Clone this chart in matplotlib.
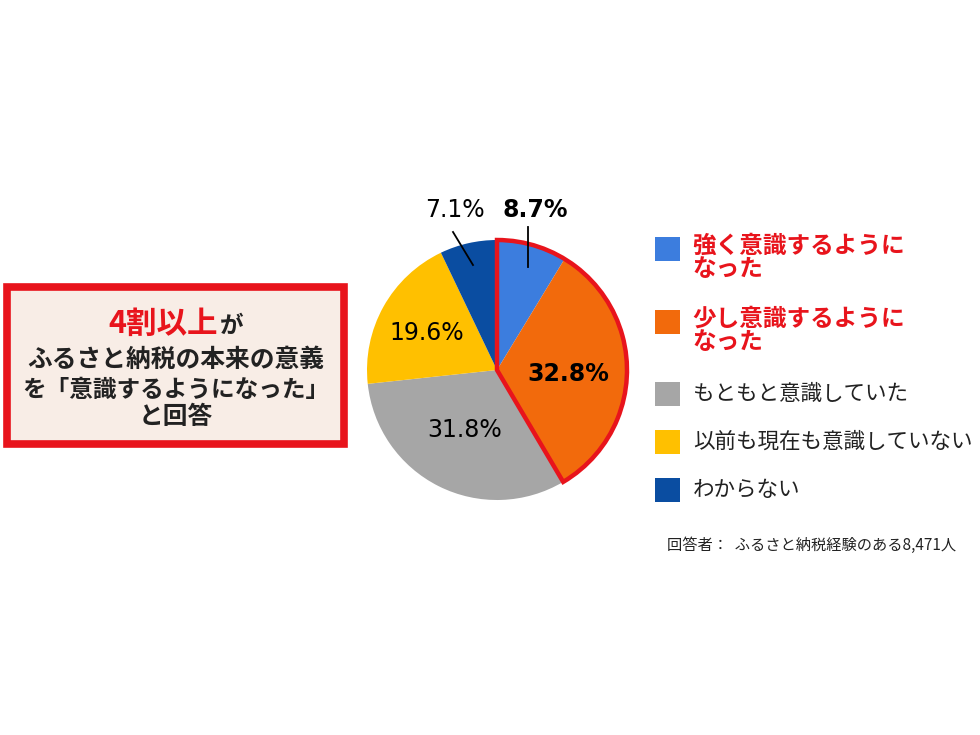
import matplotlib.pyplot as plt
from matplotlib.patches import Wedge, Rectangle

plt.rcParams['font.family'] = ['Noto Sans CJK JP', 'DejaVu Sans']

# データ
labels = ["強く意識するように\nなった", "少し意識するように\nなった", "もともと意識していた",
          "以前も現在も意識していない", "わからない"]
values = [8.7, 32.8, 31.8, 19.6, 7.1]
colors = ['#3C7DDE', '#F26A0C', '#A6A6A6', '#FFC000', '#0A4DA1']
label_red = [True, True, False, False, False]
note = "回答者：  ふるさと納税経験のある8,471人"

W, H = 980, 735
fig = plt.figure(figsize=(9.8, 7.35), dpi=100)
ax = fig.add_axes([0, 0, 1, 1])

def y(py):
    return H - py

# 円グラフ
cx, cy, r = 497, y(370), 130
ax.pie(values, colors=colors, startangle=90, counterclock=False,
       center=(cx, cy), radius=r, frame=True,
       wedgeprops=dict(linewidth=0))
ax.set_xlim(0, W)
ax.set_ylim(0, H)
ax.set_aspect('equal')
ax.axis('off')

# 「意識するようになった」の赤枠
top2 = (values[0] + values[1]) / 100 * 360
ax.add_patch(Wedge((cx, cy), r, 90 - top2, 90, fill=False,
                   edgecolor='#E8141C', linewidth=3.2, joinstyle='miter'))

# パーセント表示
pct = dict(fontsize=17, family='DejaVu Sans', ha='center', va='center')
ax.text(535, y(210), "8.7%", fontweight='bold', **pct)
ax.plot([528, 528], [y(227), y(267)], color='black', lw=1.3)
ax.text(455, y(210), "7.1%", **pct)
ax.plot([453, 473], [y(232), y(265)], color='black', lw=1.3)
ax.text(427, y(333), "19.6%", **pct)
ax.text(465, y(430), "31.8%", **pct)
ax.text(568, y(374), "32.8%", fontweight='bold', **pct)

# 凡例
sq_y = [237, 310, 382, 430, 478]
for i, lab in enumerate(labels):
    ax.add_patch(Rectangle((655, y(sq_y[i] + 24)), 25, 24, color=colors[i], lw=0))
    if label_red[i]:
        ax.text(692, y(sq_y[i] - 3), lab, fontsize=17, fontweight='bold', color='#E8141C',
                ha='left', va='top', linespacing=0.95)
    else:
        ax.text(693, y(sq_y[i] + 12), lab, fontsize=15.5, color='#222222',
                ha='left', va='center')

ax.text(667, y(545), note, fontsize=11, color='#222222', ha='left', va='center')

# 左の囲み
ax.add_patch(Rectangle((6.5, y(443.5)), 337, 157, facecolor='#F8EDE6',
                       edgecolor='#E8141C', linewidth=5.5))
ax.text(163, y(324), "4割以上", fontsize=22, fontweight='bold', color='#E8141C',
        ha='center', va='center')
ax.text(220, y(326), "が", fontsize=17, fontweight='bold', color='#222222',
        ha='left', va='center')
for txt, py, fs in [("ふるさと納税の本来の意義", 360, 17.8),
                    ("を「意識するようになった」", 390, 17),
                    ("と回答", 417, 17.8)]:
    ax.text(176, y(py), txt, fontsize=fs, fontweight='bold', color='#222222',
            ha='center', va='center')

fig.savefig("out.png", dpi=100)
